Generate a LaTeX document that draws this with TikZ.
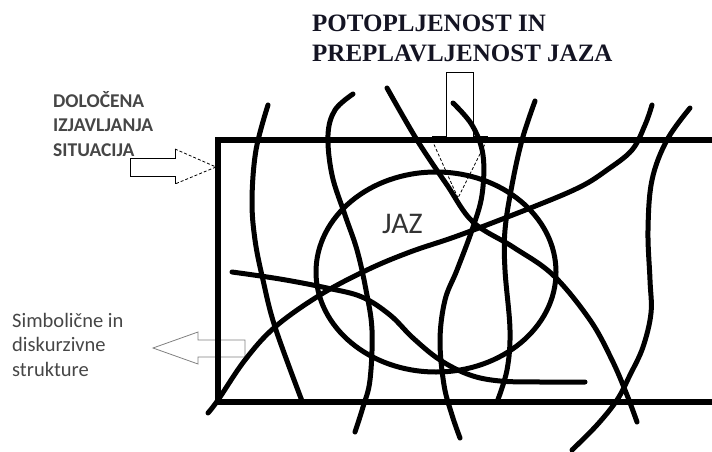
\documentclass[tikz,border=0pt]{standalone}
\usepackage{fontspec}
\setmainfont{Liberation Serif}
\newfontfamily\calibri{Carlito}
\usepackage{tikz}
\usepackage{xcolor}
\definecolor{siva}{RGB}{70,70,70}
\definecolor{naslov}{RGB}{20,20,35}

\begin{document}
\begin{tikzpicture}[
  x=1pt, y=-1pt,
  crta/.style={line width=5pt, line cap=round, line join=round},
  okvir/.style={line width=5.5pt, line join=miter},
  puscica/.style={line width=0.8pt},
  lbl/.style={font=\calibri\fontsize{20.5}{24.5}\selectfont, text=siva, inner sep=0, anchor=base west},
  lblb/.style={lbl, font=\calibri\bfseries\fontsize{19.5}{24.5}\selectfont},
  tit/.style={font=\bfseries\fontsize{25}{30}\selectfont, text=naslov, inner sep=0, anchor=base west},
]
\useasboundingbox (0,0) rectangle (712,452);
% --- napisi ---
\node[tit] (nas1) at (312,32) {POTOPLJENOST IN};
\node[tit] (nas2) at (312,62) {PREPLAVLJENOST JAZA};
\foreach \t [count=\i] in {DOLOČENA, IZJAVLJANJA, SITUACIJA}
  \node[lblb] (dol\i) at (53,82.5+24.5*\i) {\t};
\foreach \t [count=\i] in {Simbolične in, diskurzivne, strukture}
  \node[lbl] (sim\i) at (12,302.5+24.5*\i) {\t};
\node[lbl, font=\calibri\fontsize{30}{30}\selectfont, text=black!80] (jaz) at (382,233) {JAZ};
% --- puscice ---
\draw[puscica] (175,149) -- (175,158) -- (130,158) -- (130,176) -- (175,176) -- (175,184);
\draw[puscica, densely dashed] (175,149) -- (216,167) -- (175,184);
\draw[puscica] (432,140) -- (432,136) -- (446,136) -- (446,72) -- (473,72) -- (473,136) -- (487,136) -- (487,140);
\draw[puscica, densely dashed] (432,140) -- (458,198) -- (487,140);
\draw[puscica, gray] (245,340) -- (198,340) -- (198,332) -- (153,348) -- (198,364) -- (198,357) -- (245,357) -- cycle;
% ===================== OKVIR IN JAZ =====================
\draw[okvir] (712,140) -| (218,402) -- (712,402);
\draw[crta] (436,272) ellipse [x radius=120pt, y radius=100pt];
% ===================== CRTE =====================
\draw[crta] plot[smooth, tension=0.6] coordinates {(268,105) (256,150) (252,200) (255,240) (263,280) (275,327) (302,401)};
\draw[crta] plot[smooth, tension=0.6] coordinates {(353,94) (335,110) (328,135) (332,175) (345,215) (357,250) (366,290) (372,330) (370,380) (363,407) (355,432)};
\draw[crta] plot[smooth, tension=0.6] coordinates {(387,88) (417,140) (447,185) (473,222) (513,247) (553,275) (590,320) (612,360) (627,395) (637,422)};
\draw[crta] plot[smooth, tension=0.6] coordinates {(453,103) (472,125) (483,155) (482,195) (472,230) (457,270) (445,300) (440,340) (444,385) (452,415) (460,438)};
\draw[crta] plot[smooth, tension=0.6] coordinates {(535,101) (522,140) (512,185) (505,230) (505,270) (510,330) (507,370) (497,402)};
\draw[crta] plot[smooth, tension=0.6] coordinates {(208,413) (218,400) (245,360) (275,327) (320,295) (367,270) (410,252) (460,235) (533,207) (580,187) (607,170) (632,150) (645,125) (652,105)};
\draw[crta] plot[smooth, tension=0.6] coordinates {(690,108) (667,140) (652,180) (648,230) (650,280) (651,313) (643,347) (630,375) (617,400) (597,425) (572,450)};
\draw[crta] plot[smooth, tension=0.6] coordinates {(232,272) (280,279) (327,288) (362,297) (390,315) (413,338) (440,360) (470,375) (500,381) (540,382) (585,382)};
\end{tikzpicture}
\end{document}
